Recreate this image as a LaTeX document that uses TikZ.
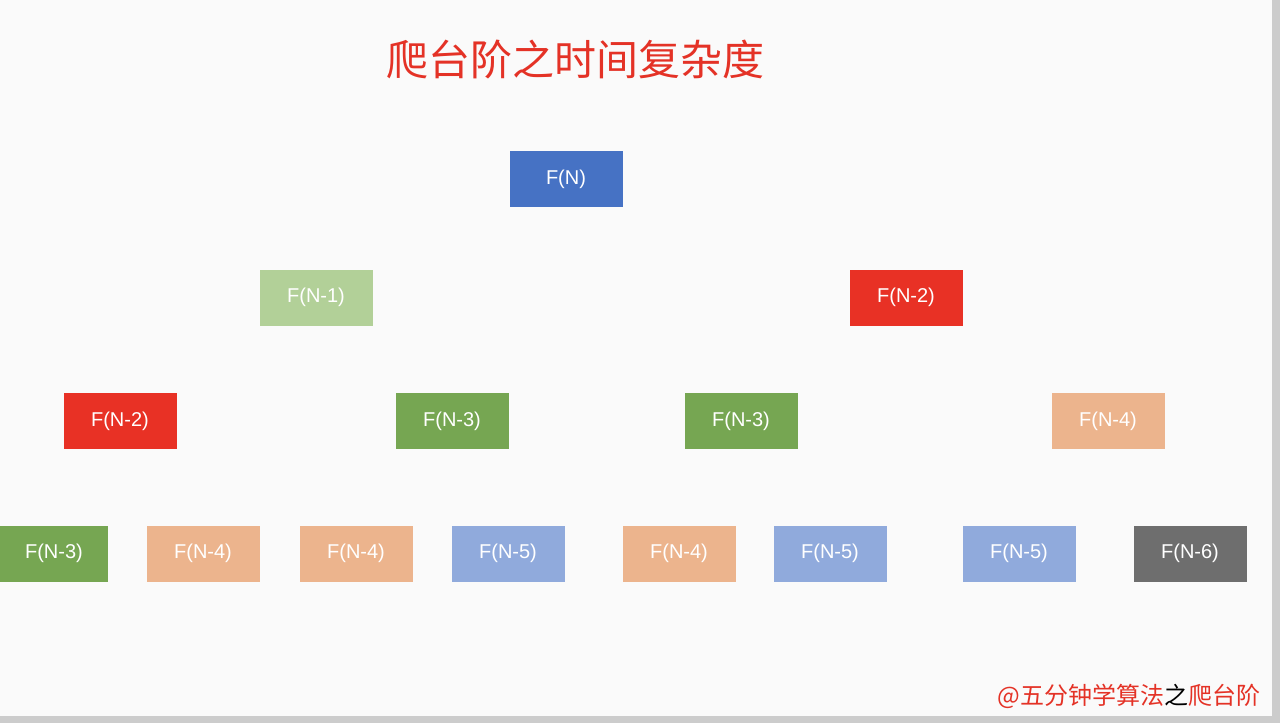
\documentclass[tikz,border=0pt]{standalone}
\usepackage{fontspec}
\setmainfont{Liberation Sans}
\newfontfamily\cjk{Noto Sans CJK SC}
\definecolor{titlered}{RGB}{228,50,38}
\definecolor{fblue}{RGB}{70,114,196}
\definecolor{flgreen}{RGB}{178,208,152}
\definecolor{fred}{RGB}{232,49,37}
\definecolor{fgreen}{RGB}{118,166,82}
\definecolor{fpeach}{RGB}{236,180,141}
\definecolor{flblue}{RGB}{144,170,220}
\definecolor{fgray}{RGB}{110,110,110}
\tikzset{
	fbox/.style={minimum width=113pt, minimum height=56pt, inner sep=0pt,
		text=white, font=\fontsize{20}{24}\selectfont}
}
\begin{document}
\begin{tikzpicture}[x=1pt,y=1pt,yscale=-1,xscale=1]
\fill[white!98!black] (0,0) rectangle (1280,723);
\fill[white!80!black] (1272,0) rectangle (1280,723);
\fill[white!80!black] (0,716) rectangle (1280,723);
\useasboundingbox (0,0) rectangle (1280,723);

\node (title) at (575,60) {\cjk\fontsize{42}{50}\selectfont\color{titlered}爬台阶之时间复杂度};

% level 0
\node[fbox, fill=fblue] (n0) at (566,179) {F(N)};
% level 1
\node[fbox, fill=flgreen] (n1) at (316,297.5) {F(N-1)};
\node[fbox, fill=fred] (n2) at (906,297.5) {F(N-2)};
% level 2
\node[fbox, fill=fred] (n11) at (120,421) {F(N-2)};
\node[fbox, fill=fgreen] (n12) at (452,421) {F(N-3)};
\node[fbox, fill=fgreen] (n21) at (741,421) {F(N-3)};
\node[fbox, fill=fpeach] (n22) at (1108,421) {F(N-4)};
% level 3
\node[fbox, fill=fgreen, minimum width=108pt] (n111) at (54,553.5) {F(N-3)};
\node[fbox, fill=fpeach] (n112) at (203,553.5) {F(N-4)};
\node[fbox, fill=fpeach] (n121) at (356,553.5) {F(N-4)};
\node[fbox, fill=flblue] (n122) at (508,553.5) {F(N-5)};
\node[fbox, fill=fpeach] (n211) at (679,553.5) {F(N-4)};
\node[fbox, fill=flblue] (n212) at (830,553.5) {F(N-5)};
\node[fbox, fill=flblue] (n221) at (1019,553.5) {F(N-5)};
\node[fbox, fill=fgray] (n222) at (1190,553.5) {F(N-6)};

\node[anchor=east] (mark) at (1264,696) {\cjk\fontsize{24}{28}\selectfont\color{titlered}@五分钟学算法{\color{black}之}爬台阶};
\end{tikzpicture}
\end{document}
